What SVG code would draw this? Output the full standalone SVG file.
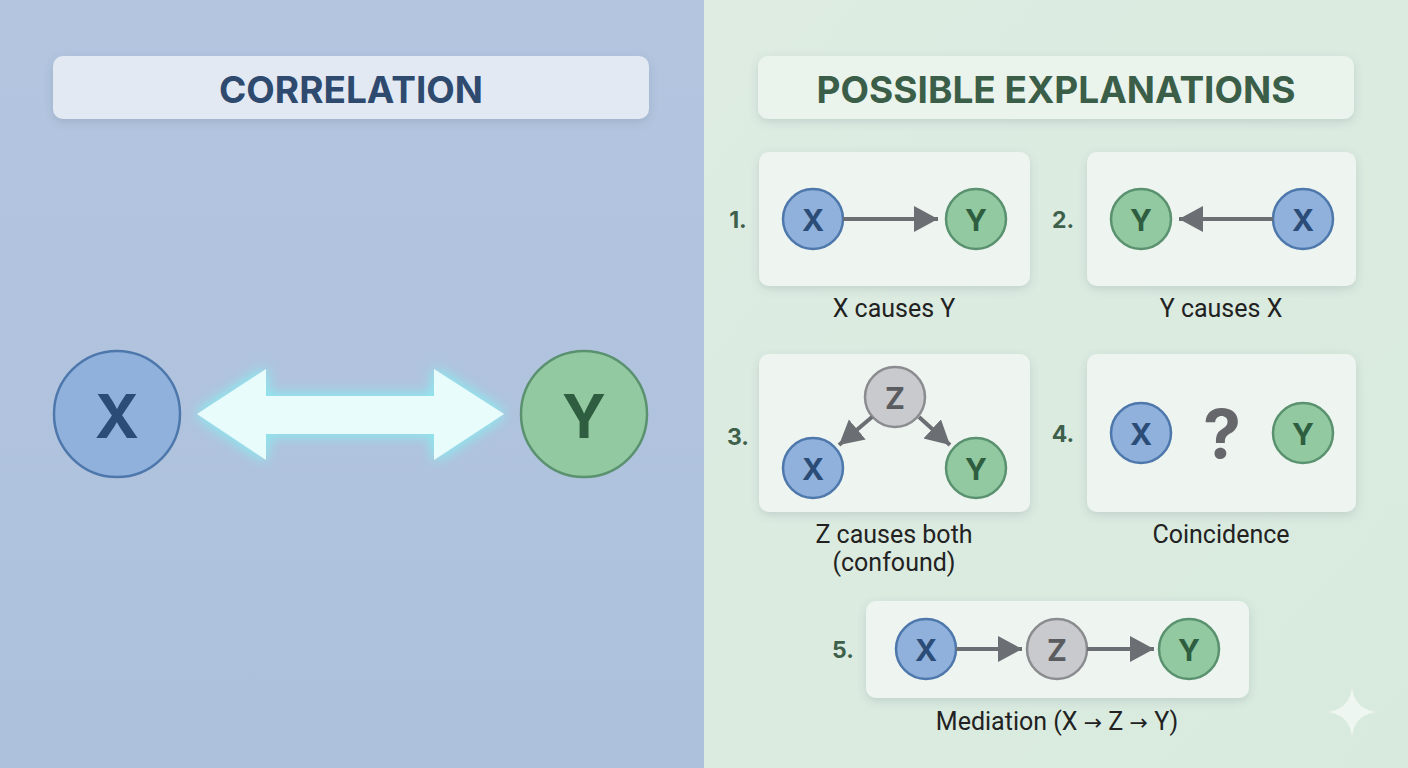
<svg xmlns="http://www.w3.org/2000/svg" width="1408" height="768" viewBox="0 0 1408 768">
<defs>
<style>
.title{font-family:Inter,"Liberation Sans",sans-serif;font-weight:700;text-anchor:middle;dominant-baseline:central}
.lbl{font-family:Roboto,"Liberation Sans",sans-serif;font-size:25px;fill:#222;text-anchor:middle}
.arw{font-family:"DejaVu Sans",sans-serif;font-size:22px}
.num{font-family:Inter,"Liberation Sans",sans-serif;font-weight:700;font-size:23px;fill:#3e604b;text-anchor:middle;dominant-baseline:central}
.box{fill:#eef4ef;filter:url(#sh)}
.cx{fill:#8fb1dc;stroke:#4e78ac;stroke-width:2.5}
.cy{fill:#92c9a1;stroke:#5a9270;stroke-width:2.5}
.cz{fill:#c9cacd;stroke:#8b8c90;stroke-width:2.5}
.t{font-family:Inter,"Liberation Sans",sans-serif;font-weight:700;text-anchor:middle;dominant-baseline:central}
.tx{fill:#2c4c78}
.ty{fill:#2e5e3f}
.tz{fill:#5b5c60}
.s{font-size:30px}
.ar{stroke:#6b6e72;stroke-width:4;fill:none;marker-end:url(#ah)}
</style>
<linearGradient id="gl" x1="0" y1="0" x2="0" y2="1"><stop offset="0" stop-color="#b3c5df"/><stop offset="1" stop-color="#aec1dc"/></linearGradient>
<linearGradient id="gr" x1="0" y1="0" x2="1" y2="1"><stop offset="0" stop-color="#deece2"/><stop offset="1" stop-color="#d8eade"/></linearGradient>
<filter id="sh" x="-10%" y="-10%" width="120%" height="130%"><feDropShadow dx="0" dy="3" stdDeviation="4" flood-color="#4a5a6a" flood-opacity="0.18"/></filter>
<filter id="glow" x="-20%" y="-50%" width="140%" height="200%"><feGaussianBlur in="SourceAlpha" stdDeviation="7" result="b"/><feFlood flood-color="#8fe6ee" flood-opacity="1"/><feComposite in2="b" operator="in" result="g"/><feMerge><feMergeNode in="g"/><feMergeNode in="g"/><feMergeNode in="SourceGraphic"/></feMerge></filter>
<marker id="ah" markerUnits="userSpaceOnUse" markerWidth="26" markerHeight="28" refX="24" refY="13" orient="auto"><path d="M0,0 L24,13 L0,26 Z" fill="#6b6e72"/></marker>
</defs>
<rect x="0" y="0" width="704" height="768" fill="url(#gl)"/>
<rect x="704" y="0" width="704" height="768" fill="url(#gr)"/>

<g id="title-correlation">
<rect x="53" y="56" width="596" height="63" rx="10" fill="#e3e9f3" filter="url(#sh)"/>
<text class="title" x="351" y="89" font-size="37" fill="#2e4a6e">CORRELATION</text>
</g>
<g id="title-explanations">
<rect x="758" y="56" width="596" height="63" rx="10" fill="#eaf3ec" filter="url(#sh)"/>
<text class="title" x="1056" y="89" font-size="37" fill="#3a5e48">POSSIBLE EXPLANATIONS</text>
</g>

<g id="big-x"><circle class="cx" cx="117" cy="414" r="63" stroke-width="3"/><text class="t tx" x="117" y="416" font-size="60">X</text></g>
<g id="big-y"><circle class="cy" cx="584" cy="414" r="63" stroke-width="3"/><text class="t ty" x="584" y="416" font-size="60">Y</text></g>

<g id="exp1">
<rect class="box" x="759" y="152" width="271" height="134" rx="10"/>
<text class="num" x="738" y="220">1.</text>
<circle class="cx" cx="813" cy="219" r="30"/><text class="t tx s" x="813" y="220">X</text>
<circle class="cy" cx="976" cy="219" r="30"/><text class="t ty s" x="976" y="220">Y</text>
<text class="lbl" x="894" y="317">X causes Y</text>
</g>
<g id="exp2">
<rect class="box" x="1087" y="152" width="269" height="134" rx="10"/>
<text class="num" x="1063" y="220">2.</text>
<circle class="cy" cx="1141" cy="219" r="30"/><text class="t ty s" x="1141" y="220">Y</text>
<circle class="cx" cx="1303" cy="219" r="30"/><text class="t tx s" x="1303" y="220">X</text>
<text class="lbl" x="1221" y="317">Y causes X</text>
</g>
<g id="exp3">
<rect class="box" x="759" y="354" width="271" height="158" rx="10"/>
<text class="num" x="738" y="437">3.</text>
<circle class="cz" cx="895" cy="397" r="30"/><text class="t tz s" x="895" y="398">Z</text>
<circle class="cx" cx="813" cy="468" r="30"/><text class="t tx s" x="813" y="469">X</text>
<circle class="cy" cx="976" cy="468" r="30"/><text class="t ty s" x="976" y="469">Y</text>
<text class="lbl" x="894" y="543">Z causes both</text>
<text class="lbl" x="894" y="571">(confound)</text>
</g>
<g id="exp4">
<rect class="box" x="1087" y="354" width="269" height="158" rx="10"/>
<text class="num" x="1063" y="434">4.</text>
<circle class="cx" cx="1141" cy="433" r="30"/><text class="t tx s" x="1141" y="434">X</text>
<text class="t" x="1222" y="433" font-size="68" fill="#66676b">?</text>
<circle class="cy" cx="1303" cy="433" r="30"/><text class="t ty s" x="1303" y="434">Y</text>
<text class="lbl" x="1221" y="543">Coincidence</text>
</g>
<g id="exp5">
<rect class="box" x="866" y="601" width="383" height="97" rx="10"/>
<text class="num" x="843" y="650">5.</text>
<circle class="cx" cx="926" cy="649" r="30"/><text class="t tx s" x="926" y="650">X</text>
<circle class="cz" cx="1057" cy="649" r="30"/><text class="t tz s" x="1057" y="650">Z</text>
<circle class="cy" cx="1189" cy="649" r="30"/><text class="t ty s" x="1189" y="650">Y</text>
<text class="lbl" x="1057" y="730">Mediation (X <tspan class="arw">→</tspan> Z <tspan class="arw">→</tspan> Y)</text>
</g>

<g id="connectors">
<path d="M197,414 L266,369 L266,396 L434,396 L434,369 L504,414 L434,460 L434,434 L266,434 L266,460 Z" fill="#e8fcfc" filter="url(#glow)"/>
<path class="ar" d="M843,219 L938,219"/>
<path class="ar" d="M1273,219 L1179,219"/>
<path class="ar" d="M872,417 L839,445"/>
<path class="ar" d="M919,417 L950,445"/>
<path class="ar" d="M956,649 L1022,649"/>
<path class="ar" d="M1087,649 L1154,649"/>
</g>
<path d="M1352,688 Q1355,709 1376,712 Q1355,715 1352,736 Q1349,715 1328,712 Q1349,709 1352,688 Z" fill="#f2f8f4" opacity="0.85"/>
</svg>
